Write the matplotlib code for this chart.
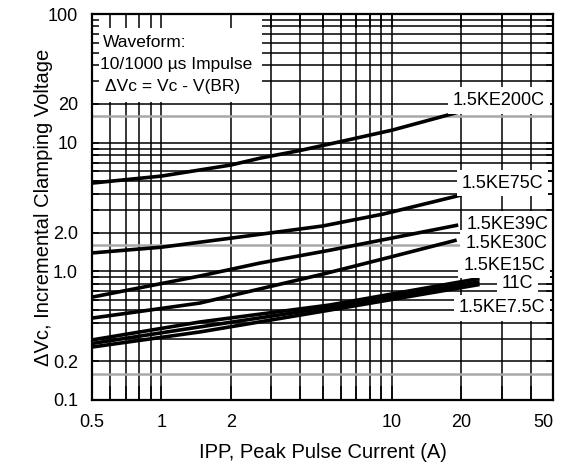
import matplotlib.pyplot as plt
from matplotlib.patches import Rectangle
from matplotlib.ticker import NullFormatter

plt.rcParams['font.family'] = ['Liberation Sans', 'DejaVu Sans']

# ---- data (Ipp in A, delta Vc in V) ----
ke200_x = [0.5, 1, 2, 2.7, 4, 6, 10, 20]
ke200_y = [4.85, 5.5, 6.7, 7.6, 8.7, 10.2, 12.5, 17.5]

ke75_x = [0.5, 1, 2, 5, 9.2, 20]
ke75_y = [1.39, 1.54, 1.81, 2.25, 2.79, 3.92]

ke39_x = [0.5, 1.47, 2.68, 5.39, 19.4]
ke39_y = [0.63, 0.92, 1.16, 1.46, 2.29]

ke30_x = [0.5, 1.47, 5.0, 10, 19.1]
ke30_y = [0.433, 0.567, 0.95, 1.3, 1.75]

ke15_x = [0.5, 1.47, 5.39, 24]
ke15_y = [0.293, 0.404, 0.548, 0.88]

ke11_x = [0.5, 1.47, 5.39, 24]
ke11_y = [0.275, 0.37, 0.525, 0.83]

ke7_x = [0.5, 1.47, 5.39, 24]
ke7_y = [0.258, 0.338, 0.50, 0.79]

curve_labels = ['1.5KE200C', '1.5KE75C', '1.5KE39C', '1.5KE30C',
                '1.5KE15C', '11C', '1.5KE7.5C']

x_ticks = [0.5, 1, 2, 10, 20, 50]
x_tick_labels = ['0.5', '1', '2', '10', '20', '50']
y_ticks = [0.1, 0.2, 1, 2, 10, 20, 100]
y_tick_labels = ['0.1', '0.2', '1.0', '2.0', '10', '20', '100']

x_grid = [0.5, 0.6, 0.7, 0.8, 0.9, 1, 2, 3, 4, 5, 6, 7, 8, 9,
          10, 20, 30, 40, 50]
y_grid = [0.1, 0.2, 0.3, 0.4, 0.5, 0.6, 0.7, 0.8, 0.9,
          1, 2, 3, 4, 5, 6, 7, 8, 9,
          10, 20, 30, 40, 50, 60, 70, 80, 90, 100]
gray_lines = [0.16, 1.6, 16]


def main():
    fig = plt.figure(figsize=(5.61, 4.67), dpi=100)
    ax = fig.add_axes([92 / 561, 1 - 400 / 467, 461 / 561, 386 / 467])
    ax.set_xscale('log')
    ax.set_yscale('log')
    ax.set_xlim(0.5, 50)
    ax.set_ylim(0.1, 100)

    for g in x_grid:
        ax.axvline(g, color='black', lw=1.1, zorder=1)
    for g in y_grid:
        ax.axhline(g, color='black', lw=1.1, zorder=1)
    for g in gray_lines:
        ax.axhline(g, color='#a8a8a8', lw=1.8, zorder=1)

    # white panel holding the waveform note
    ax.add_patch(Rectangle((0.5, 20.6), 2.73 - 0.5, 100 - 20.6,
                           facecolor='white', edgecolor='none', zorder=2))
    note = ['Waveform:', '10/1000 \u00b5s Impulse', '\u0394Vc = Vc - V(BR)']
    note_x = [0.024, 0.017, 0.028]
    note_y = [0.925, 0.868, 0.811]
    for t, nx, ny in zip(note, note_x, note_y):
        ax.text(nx, ny, t, transform=ax.transAxes, fontsize=12.5,
                va='center', ha='left', zorder=3)

    curves = [(ke200_x, ke200_y), (ke75_x, ke75_y), (ke39_x, ke39_y),
              (ke30_x, ke30_y), (ke15_x, ke15_y), (ke11_x, ke11_y),
              (ke7_x, ke7_y)]
    for cx, cy in curves:
        ax.plot(cx, cy, color='black', lw=2.6, solid_capstyle='butt',
                solid_joinstyle='round', zorder=3)

    label_pos = [(18.4, 21.4), (20.1, 4.85), (21.2, 2.33), (20.8, 1.66),
                 (20.4, 1.12), (30.0, 0.81), (19.5, 0.519)]
    for name, (lx, ly) in zip(curve_labels, label_pos):
        ax.text(lx, ly, name, fontsize=13, ha='left', va='center', zorder=4,
                bbox=dict(facecolor='white', edgecolor='none', pad=3.5))

    ax.set_xticks(x_ticks, x_tick_labels)
    ax.set_yticks(y_ticks, y_tick_labels)
    ax.set_xticks(x_grid, minor=True)
    ax.set_yticks(y_grid, minor=True)
    ax.xaxis.set_minor_formatter(NullFormatter())
    ax.yaxis.set_minor_formatter(NullFormatter())
    ax.tick_params(axis='x', which='both', direction='in', top=True,
                   length=10, width=1.1, labelsize=13, pad=10)
    ax.tick_params(axis='y', which='both', direction='in', right=True,
                   length=5, width=1.1, labelsize=13, pad=10)
    # last x label sits at the right edge of the figure
    ax.get_xticklabels()[-1].set_horizontalalignment('right')
    ax.set_axisbelow(False)
    for s in ax.spines.values():
        s.set_linewidth(1.6)
        s.set_zorder(5)

    ax.set_xlabel('IPP, Peak Pulse Current (A)', fontsize=14.5)
    ax.xaxis.set_label_coords(0.5, -0.112)
    ax.set_ylabel('\u0394Vc, Incremental Clamping Voltage', fontsize=14.5)
    ax.yaxis.set_label_coords(-0.085, 0.5)

    fig.savefig('out.png', dpi=100)


if __name__ == '__main__':
    main()
